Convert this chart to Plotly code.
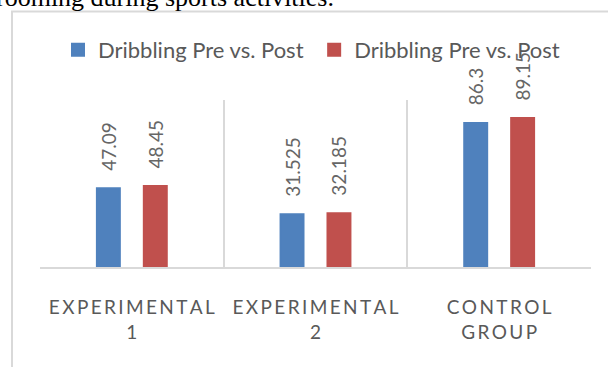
import plotly.graph_objects as go

# ---- data ----
categories = ["EXPERIMENTAL 1", "EXPERIMENTAL 2", "CONTROL GROUP"]
tick_lines = [["EXPERIMENTAL", "1"], ["EXPERIMENTAL", "2"], ["CONTROL", "GROUP"]]
series_names = ["Dribbling Pre vs. Post", "Dribbling Pre vs. Post"]
pre_values = [47.09, 31.525, 86.3]
post_values = [48.45, 32.185, 89.15]
colors = ["#4F81BD", "#C0504D"]
caption_text = "rooming during sports activities."

# ---- layout constants (pixels) ----
W, H = 608, 367
ML, MR, MT, MB = 40, 17, 100, 100
PW, PH = W - ML - MR, H - MT - MB


def px_x(p):
    return (p - ML) / PW


def px_y(p):
    return (H - MB - p) / PH


def spaced(word):
    return "\u200a\u200a".join(word)


tick_text = ["<br>".join(spaced(w) for w in lines) for lines in tick_lines]
label_pad = "\u00a0\u00a0\u00a0"
legend_pad = ["\u00a0", ""]

fig = go.Figure()
for name, pad, vals, col in zip(series_names, legend_pad, [pre_values, post_values], colors):
    fig.add_trace(go.Bar(
        x=categories, y=vals, name=name + pad,
        marker=dict(color=col, line=dict(width=2, color=col)),
        text=[label_pad + str(v) for v in vals],
        textposition="outside", textangle=-90,
        constraintext="none", cliponaxis=False,
        textfont=dict(family="Lato", size=19, color="#666666"),
    ))

fig.update_layout(
    width=W, height=H, autosize=False,
    margin=dict(l=ML, r=MR, t=MT, b=MB),
    paper_bgcolor="white", plot_bgcolor="white",
    barmode="group", bargap=0.489, bargroupgap=0.511,
    font=dict(family="Lato", color="#595959"),
    legend=dict(orientation="h", x=px_x(58), xanchor="left",
                y=px_y(50), yanchor="middle",
                font=dict(family="Lato", size=22, color="#595959"),
                bgcolor="rgba(0,0,0,0)", traceorder="normal"),
    xaxis=dict(tickmode="array", tickvals=categories, ticktext=tick_text,
               tickson="boundaries", showgrid=True, gridcolor="#D9D9D9",
               gridwidth=1.5, showline=True, linecolor="#D9D9D9", linewidth=2,
               ticks="", ticklabelstandoff=22,
               tickfont=dict(family="Lato", size=19, color="#595959")),
    yaxis=dict(range=[0, 100], visible=False),
    showlegend=True,
)

# outer chart frame (decoration)
fig.add_shape(type="rect", xref="paper", yref="paper",
              x0=px_x(12), x1=px_x(W + 20), y0=px_y(H + 20), y1=px_y(11.5),
              line=dict(color="#D9D9D9", width=2), fillcolor="rgba(0,0,0,0)",
              layer="below")

# partially visible caption line from the surrounding document
fig.add_annotation(text=caption_text, xref="paper", yref="paper",
                   x=px_x(336), xanchor="right", y=px_y(14), yanchor="bottom",
                   showarrow=False,
                   font=dict(family="Liberation Serif", size=26, color="black"))

fig.write_html("out.html")
